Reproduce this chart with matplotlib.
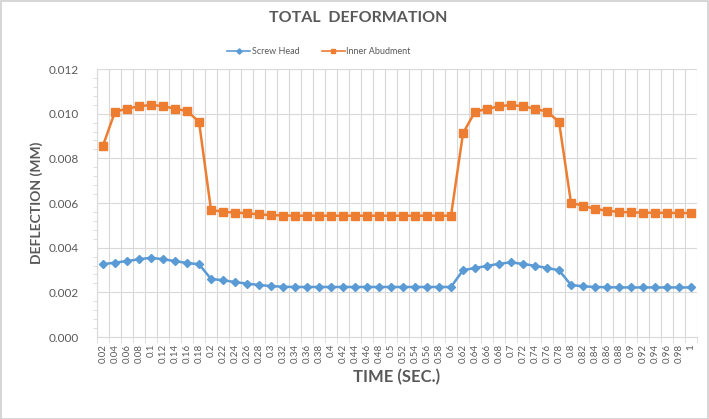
import matplotlib
matplotlib.use("Agg")
import matplotlib.pyplot as plt
from matplotlib.patches import Rectangle
import numpy as np

time_labels = ["0.02","0.04","0.06","0.08","0.1","0.12","0.14","0.16","0.18","0.2",
               "0.22","0.24","0.26","0.28","0.3","0.32","0.34","0.36","0.38","0.4",
               "0.42","0.44","0.46","0.48","0.5","0.52","0.54","0.56","0.58","0.6",
               "0.62","0.64","0.66","0.68","0.7","0.72","0.74","0.76","0.78","0.8",
               "0.82","0.84","0.86","0.88","0.9","0.92","0.94","0.96","0.98","1"]

screw_head = [0.00326, 0.00333, 0.00340, 0.00348, 0.00355, 0.00348, 0.00340, 0.00331, 0.00326, 0.00260,
              0.00254, 0.00246, 0.00239, 0.00233, 0.00228, 0.00225, 0.00224, 0.00224, 0.00224, 0.00224,
              0.00224, 0.00224, 0.00224, 0.00224, 0.00224, 0.00224, 0.00224, 0.00224, 0.00224, 0.00224,
              0.00299, 0.00309, 0.00318, 0.00328, 0.00334, 0.00327, 0.00319, 0.00309, 0.00299, 0.00233,
              0.00227, 0.00224, 0.00223, 0.00222, 0.00222, 0.00222, 0.00222, 0.00222, 0.00222, 0.00222]

inner_abutment = [0.00857, 0.01009, 0.01022, 0.01033, 0.01039, 0.01034, 0.01022, 0.01012, 0.00964, 0.00569,
                  0.00561, 0.00557, 0.00554, 0.00549, 0.00546, 0.00544, 0.00543, 0.00543, 0.00543, 0.00543,
                  0.00543, 0.00543, 0.00543, 0.00543, 0.00543, 0.00543, 0.00543, 0.00543, 0.00543, 0.00543,
                  0.00912, 0.01009, 0.01021, 0.01033, 0.01039, 0.01033, 0.01022, 0.01009, 0.00964, 0.00601,
                  0.00588, 0.00573, 0.00566, 0.00560, 0.00558, 0.00557, 0.00556, 0.00556, 0.00555, 0.00555]

blue = "#5B9BD5"
orange = "#ED7D31"
txt = "#595959"
grid = "#D9D9D9"

plt.rcParams['font.family'] = ['Lato', 'DejaVu Sans']

fig = plt.figure(figsize=(7.09, 4.19), dpi=100)
fig.patches.append(Rectangle((0.001, 0.001), 0.997, 0.997, transform=fig.transFigure,
                             fill=False, edgecolor="#D0D0D0", linewidth=1.2))
ax = fig.add_axes([97/709, 1-337/419, 600/709, 268/419])

x = np.arange(len(time_labels))
ax.plot(x, screw_head, color=blue, marker="D", markersize=4.5, linewidth=1.8, label="Screw Head")
ax.plot(x, inner_abutment, color=orange, marker="s", markersize=5.5, linewidth=1.8, label="Inner Abudment")

ax.set_xlim(-0.5, len(time_labels)-0.5)
ax.set_ylim(0, 0.012)
ax.set_yticks(np.arange(0, 0.0121, 0.002))
ax.set_yticklabels([f"{v:.3f}" for v in np.arange(0, 0.0121, 0.002)], color=txt, fontsize=8.5)
ax.set_yticks(np.arange(0, 0.0121, 0.0004), minor=True)

ax.set_xticks(x)
ax.set_xticklabels(time_labels, rotation=90, fontsize=7, color=txt)
ax.set_xticks(np.arange(-0.5, len(time_labels), 1.0), minor=True)

ax.tick_params(axis='x', which='major', length=0, pad=5)
ax.tick_params(axis='x', which='minor', length=4, color=grid)
ax.tick_params(axis='y', which='major', length=0, pad=13)
ax.tick_params(axis='y', which='minor', length=3, color=grid, direction='out')

ax.grid(True, which='major', axis='y', color=grid, linewidth=0.8)
ax.grid(True, which='minor', axis='x', color=grid, linewidth=0.8)
ax.set_axisbelow(True)
for s in ax.spines.values():
    s.set_visible(False)
ax.spines['bottom'].set_visible(True)
ax.spines['bottom'].set_color(grid)
ax.spines['left'].set_visible(True)
ax.spines['left'].set_color(grid)

ax.set_xlabel("TIME (SEC.)", fontsize=12, fontweight='bold', color=txt, labelpad=4)
ax.set_ylabel("DEFLECTION (MM)", fontsize=10, fontweight='bold', color=txt, labelpad=4)

fig.text(0.505, 0.957, "TOTAL  DEFORMATION", ha='center', va='center', fontsize=11.5,
         fontweight='bold', color=txt)
leg = fig.legend(loc='center', bbox_to_anchor=(0.45, 0.876), ncol=2, frameon=False, fontsize=6.5,
                 labelcolor=txt, handlelength=2.5, columnspacing=2.5, handletextpad=0.2,
                 markerscale=0.6)
for h in leg.legend_handles:
    h.set_linewidth(1.2)

fig.savefig("out.png", dpi=100)
